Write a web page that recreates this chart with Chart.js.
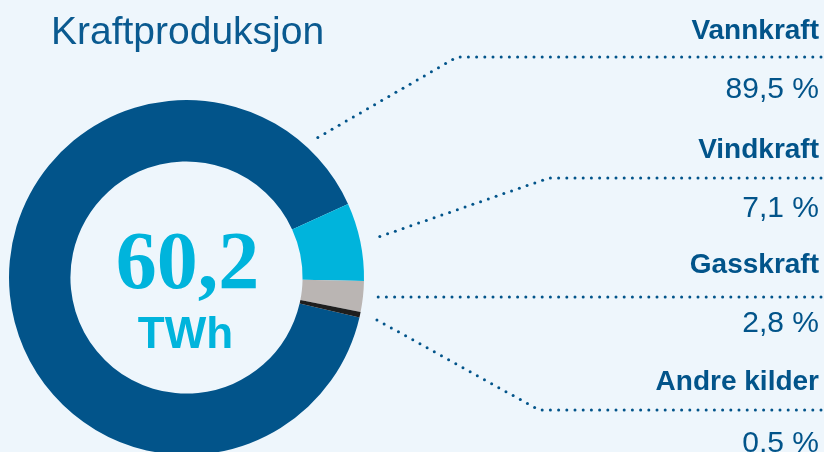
<!DOCTYPE html>
<html lang="no">
<head>
<meta charset="utf-8">
<title>Kraftproduksjon</title>
<script src="https://cdn.jsdelivr.net/npm/chart.js@4/dist/chart.umd.min.js"></script>
<style>
  html, body { margin: 0; padding: 0; background: #eef6fc; overflow: hidden; }
  #wrap { position: relative; width: 824px; height: 460px; }
</style>
</head>
<body>
<div id="wrap"><canvas id="chart" width="824" height="460"></canvas></div>
<script>
// Kraftproduksjon – doughnut with leader lines to labels on the right.

const title = "Kraftproduksjon";
const categories = ["Vannkraft", "Vindkraft", "Gasskraft", "Andre kilder"];
const shares = [89.5, 7.1, 2.8, 0.5];
const totalTWh = 60.2;
const totalUnit = "TWh";
const colors = ["#02548a", "#00b4dc", "#bab5b3", "#1e1e1e"];

const BLUE = "#02548a";
const CYAN = "#00b4dc";

const fmt = (v) => v.toFixed(1).replace(".", ",");

// label rows on the right: name baseline, dotted line y, value baseline
const rows = [
  { name: 39, line: 57, value: 98, elbowX: 457, anchorDeg: -47 },
  { name: 158, line: 178, value: 217, elbowX: 549 },
  { name: 273, line: 297, value: 332, elbowX: null },
  { name: 390, line: 410, value: 452, elbowX: 539 },
];
const RIGHT = 819;

// dots laid out from the first point, so pass the path right-to-left
function dottedPath(ctx, pts, step, r) {
  let carry = 0;
  for (let i = 0; i < pts.length - 1; i++) {
    const [x0, y0] = pts[i], [x1, y1] = pts[i + 1];
    const len = Math.hypot(x1 - x0, y1 - y0);
    let d = carry;
    while (d <= len) {
      const t = d / len;
      ctx.beginPath();
      ctx.arc(x0 + (x1 - x0) * t, y0 + (y1 - y0) * t, r, 0, Math.PI * 2);
      ctx.fill();
      d += step;
    }
    carry = d - len;
  }
}

const annotations = {
  id: "annotations",
  afterDraw(chart) {
    const ctx = chart.ctx;
    const arcs = chart.getDatasetMeta(0).data;
    const cx = arcs[0].x, cy = arcs[0].y;
    const outer = arcs[0].outerRadius;

    ctx.save();
    // title
    ctx.fillStyle = "#0a5a90";
    ctx.font = "39px 'Liberation Sans', Arial, sans-serif";
    ctx.textAlign = "left";
    ctx.textBaseline = "alphabetic";
    ctx.fillText(title, 51, 44);

    // centre total
    ctx.fillStyle = CYAN;
    ctx.textAlign = "center";
    ctx.font = "bold 82px 'Liberation Serif', 'Times New Roman', serif";
    ctx.fillText(fmt(totalTWh), cx + 1, cy + 10.5);
    ctx.font = "bold 44px 'Liberation Sans', Arial, sans-serif";
    ctx.fillText(totalUnit, cx - 1, cy + 70.5);

    // leaders and labels
    ctx.fillStyle = BLUE;
    ctx.textAlign = "right";
    categories.forEach((name, i) => {
      const row = rows[i];
      const arc = arcs[i];
      const ang = row.anchorDeg !== undefined
        ? row.anchorDeg * Math.PI / 180
        : (arc.startAngle + arc.endAngle) / 2;
      const rr = outer + 12.5;
      const sx = cx + Math.cos(ang) * rr;
      const sy = cy + Math.sin(ang) * rr;
      const pts = row.elbowX === null
        ? [[RIGHT + 2, row.line], [sx, row.line]]
        : [[RIGHT + 2, row.line], [row.elbowX, row.line], [sx, sy]];
      dottedPath(ctx, pts, 8.2, 1.5);

      ctx.font = "bold 28px 'Liberation Sans', Arial, sans-serif";
      ctx.fillText(name, RIGHT, row.name);
      ctx.font = "30px 'Liberation Sans', Arial, sans-serif";
      ctx.fillText(fmt(shares[i]) + " %", RIGHT, row.value);
    });
    ctx.restore();
  },
};

new Chart(document.getElementById("chart"), {
  type: "doughnut",
  data: {
    labels: categories,
    datasets: [{
      data: shares,
      backgroundColor: colors,
      borderWidth: 0,
    }],
  },
  options: {
    responsive: false,
    animation: false,
    rotation: 103,
    cutout: "65.4%",
    layout: { padding: { left: 9, top: 100, right: 460, bottom: 5 } },
    plugins: {
      legend: { display: false },
      tooltip: { enabled: false },
    },
  },
  plugins: [annotations],
});
</script>
</body>
</html>
